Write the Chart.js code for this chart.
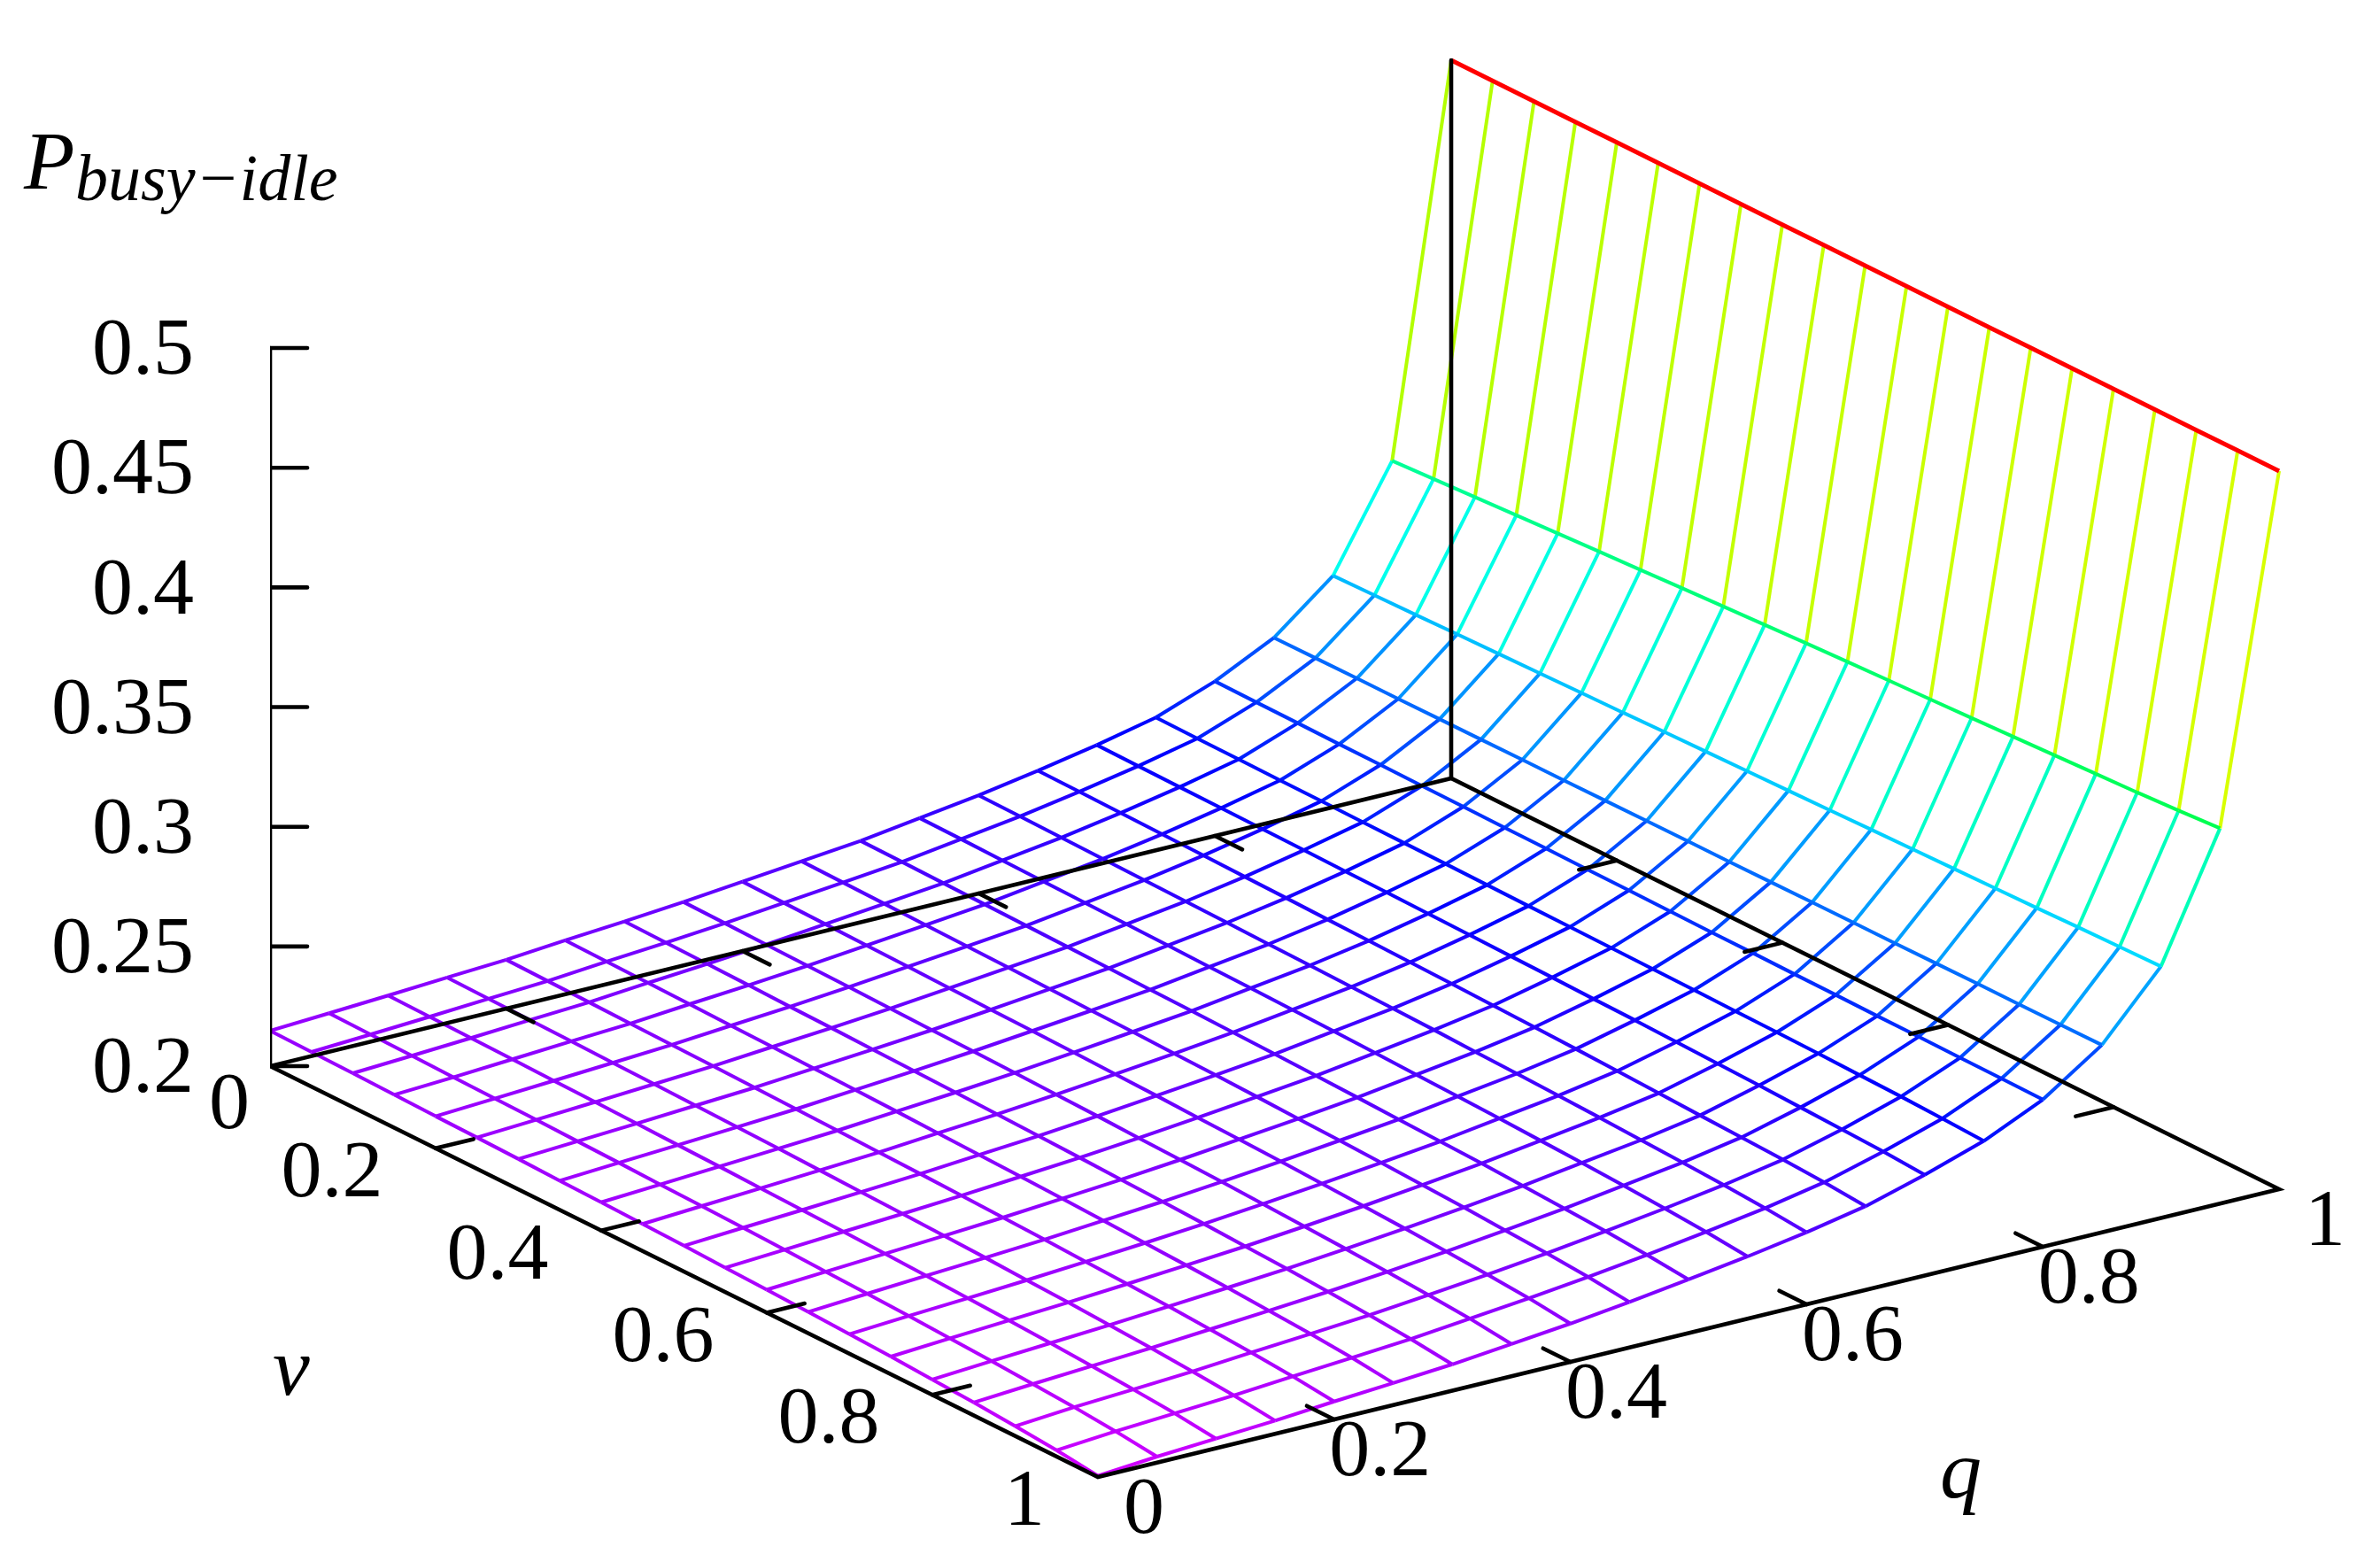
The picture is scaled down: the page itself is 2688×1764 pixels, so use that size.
<!DOCTYPE html>
<html>
<head>
<meta charset="utf-8">
<title>P busy-idle surface</title>
<script src="https://cdn.jsdelivr.net/npm/chart.js@4/dist/chart.umd.min.js"></script>
<style>
  html, body { margin: 0; padding: 0; background: #fff; }
  #wrap { width: 2688px; height: 1764px; }
</style>
</head>
<body>
<div id="wrap"><canvas id="myChart" width="2688" height="1764"></canvas></div>
<script>
// grid of the surface
const vValues = [0,0.05,0.1,0.15,0.2,0.25,0.3,0.35,0.4,0.45,0.5,0.55,0.6,0.65,0.7,0.75,0.8,0.85,0.9,0.95,1];
const qValues = [0,0.05,0.1,0.15,0.2,0.25,0.3,0.35,0.4,0.45,0.5,0.55,0.6,0.65,0.7,0.75,0.8,0.85,0.9,0.95,1];

// P values, one array per q, running along v
const pQ000 = [.2148,.2145,.2142,.2138,.2134,.2131,.2127,.2122,.2118,.2113,.2108,.2102,.2096,.2089,.2082,.2074,.2064,.2054,.2041,.2026,.2005];
const pQ005 = [.2161,.2158,.2155,.2151,.2148,.2145,.2141,.2137,.2132,.2128,.2123,.2117,.2111,.2105,.2098,.2090,.2081,.2071,.2060,.2045,.2025];
const pQ010 = [.2175,.2172,.2169,.2166,.2162,.2159,.2155,.2151,.2147,.2142,.2137,.2132,.2126,.2120,.2112,.2105,.2096,.2086,.2074,.2060,.2040];
const pQ015 = [.2190,.2187,.2184,.2181,.2177,.2174,.2170,.2166,.2162,.2157,.2152,.2147,.2141,.2135,.2127,.2120,.2111,.2101,.2089,.2075,.2055];
const pQ020 = [.2204,.2201,.2198,.2195,.2192,.2189,.2185,.2181,.2177,.2172,.2168,.2163,.2157,.2151,.2144,.2137,.2129,.2119,.2108,.2094,.2075];
const pQ025 = [.2225,.2222,.2219,.2216,.2212,.2209,.2205,.2201,.2197,.2192,.2187,.2182,.2176,.2170,.2162,.2155,.2147,.2137,.2126,.2112,.2092];
const pQ030 = [.2244,.2241,.2238,.2235,.2231,.2228,.2224,.2220,.2216,.2211,.2206,.2201,.2195,.2189,.2182,.2174,.2166,.2156,.2144,.2130,.2110];
const pQ035 = [.2265,.2262,.2259,.2256,.2253,.2249,.2245,.2242,.2238,.2233,.2229,.2223,.2218,.2212,.2205,.2197,.2189,.2179,.2168,.2155,.2135];
const pQ040 = [.2290,.2287,.2284,.2281,.2278,.2274,.2270,.2267,.2263,.2258,.2254,.2248,.2243,.2237,.2230,.2222,.2214,.2204,.2193,.2180,.2160];
const pQ045 = [.2315,.2312,.2309,.2306,.2303,.2300,.2296,.2292,.2289,.2284,.2280,.2275,.2269,.2264,.2257,.2250,.2242,.2232,.2222,.2209,.2190];
const pQ050 = [.2340,.2338,.2335,.2332,.2329,.2326,.2323,.2319,.2316,.2312,.2308,.2303,.2298,.2292,.2286,.2280,.2272,.2263,.2254,.2241,.2224];
const pQ055 = [.2375,.2373,.2370,.2367,.2364,.2361,.2358,.2354,.2351,.2347,.2343,.2338,.2333,.2328,.2322,.2315,.2308,.2299,.2289,.2277,.2260];
const pQ060 = [.2410,.2408,.2405,.2402,.2399,.2396,.2393,.2389,.2386,.2382,.2378,.2374,.2368,.2363,.2357,.2351,.2343,.2335,.2327,.2316,.2301];
const pQ065 = [.2453,.2451,.2448,.2445,.2442,.2439,.2436,.2432,.2429,.2425,.2421,.2416,.2411,.2406,.2400,.2393,.2386,.2380,.2373,.2364,.2350];
const pQ070 = [.2500,.2498,.2496,.2494,.2492,.2490,.2487,.2485,.2482,.2479,.2476,.2473,.2469,.2466,.2461,.2456,.2451,.2445,.2439,.2432,.2421];
const pQ075 = [.2555,.2553,.2552,.2550,.2549,.2547,.2545,.2544,.2542,.2540,.2538,.2536,.2534,.2532,.2529,.2527,.2524,.2520,.2516,.2510,.2502];
const pQ080 = [.2646,.2644,.2643,.2641,.2640,.2638,.2637,.2635,.2634,.2632,.2631,.2629,.2627,.2626,.2624,.2623,.2621,.2620,.2618,.2617,.2615];
const pQ085 = [.2768,.2769,.2770,.2770,.2771,.2772,.2773,.2773,.2774,.2775,.2776,.2776,.2777,.2778,.2779,.2779,.2780,.2781,.2781,.2782,.2783];
const pQ090 = [.2967,.2971,.2975,.2980,.2984,.2988,.2992,.2996,.3001,.3005,.3009,.3013,.3017,.3022,.3026,.3030,.3034,.3038,.3043,.3047,.3051];
const pQ095 = [.3387,.3397,.3407,.3417,.3427,.3437,.3446,.3456,.3465,.3474,.3483,.3491,.3499,.3506,.3514,.3522,.3530,.3538,.3546,.3556,.3568];
const pQ100 = [.5,.5,.5,.5,.5,.5,.5,.5,.5,.5,.5,.5,.5,.5,.5,.5,.5,.5,.5,.5,.5];
const pRows = [pQ000,pQ005,pQ010,pQ015,pQ020,pQ025,pQ030,pQ035,pQ040,pQ045,pQ050,pQ055,pQ060,pQ065,pQ070,pQ075,pQ080,pQ085,pQ090,pQ095,pQ100];

// tick labels
const pTicks = [0.2,0.25,0.3,0.35,0.4,0.45,0.5];
const vTicks = [0,0.2,0.4,0.6,0.8,1];
const qTicks = [0,0.2,0.4,0.6,0.8,1];

// view: how one unit of v and q lands on the flat chart (x in chart units, y in P units)
const vToX = 935, qToX = 1334;
const vToP = -464 / 2703.3, qToP = 325 / 2703.3;
const pMin = 0.2, pMax = 0.5;

function project(v, q, p) {
  return { x: v * vToX + q * qToX, y: p + v * vToP + q * qToP, z: p };
}

function meshColor(p) {
  const t = Math.min(1, Math.max(0, (p - pMin) / (pMax - pMin)));
  return 'hsl(' + (290 * (1 - t)) + ',100%,50%)';
}

function blackLine(points) {
  return { data: points, borderColor: '#000', borderWidth: 4.6, pointRadius: 0, borderCapStyle: 'round' };
}

function meshLine(points, width) {
  return {
    data: points,
    borderColor: meshColor(points[0].z),
    borderWidth: width,
    pointRadius: 0,
    segment: {
      borderColor: ctx => {
        const d = ctx.chart.data.datasets[ctx.datasetIndex].data;
        return meshColor((d[ctx.p0DataIndex].z + d[ctx.p1DataIndex].z) / 2);
      }
    }
  };
}

const datasets = [];

// box: black lines go first so they end up over the mesh
datasets.push(blackLine([project(0,0,pMin), project(0,0,pMax)]));
datasets.push(blackLine([project(0,1,pMin), project(0,1,pMax)]));
datasets.push(blackLine([project(0,0,pMin), project(1,0,pMin), project(1,1,pMin), project(0,1,pMin), project(0,0,pMin)]));

const tickQ = 0.032, tickV = 0.033, tickX = 42;
pTicks.forEach(p => {
  datasets.push(blackLine([project(0,0,p), { x: tickX, y: p }]));
});
vTicks.slice(1, -1).forEach(v => {
  datasets.push(blackLine([project(v,0,pMin), project(v,tickQ,pMin)]));
  datasets.push(blackLine([project(v,1,pMin), project(v,1-tickQ,pMin)]));
});
qTicks.slice(1, -1).forEach(q => {
  datasets.push(blackLine([project(1,q,pMin), project(1-tickV,q,pMin)]));
  datasets.push(blackLine([project(0,q,pMin), project(tickV,q,pMin)]));
});

// mesh
pRows.forEach((row, i) => {
  datasets.push(meshLine(vValues.map((v, j) => project(v, qValues[i], row[j])), i === pRows.length - 1 ? 5 : 4));
});
vValues.forEach((v, j) => {
  datasets.push(meshLine(qValues.map((q, i) => project(v, q, pRows[i][j])), 4));
});

const tickFont = '92px "Liberation Serif"';
const labelDrop = 5;
const pLabelRight = 219;
const vLabelOffsets = [[-46,41],[-117,25],[-117,25],[-117,25],[-117,25],[-83,25]];
const qLabelOffset = [52,34];

const textPlugin = {
  id: 'surfaceText',
  afterDatasetsDraw(chart) {
    const c = chart.ctx, xs = chart.scales.x, ys = chart.scales.y;
    c.save();
    c.fillStyle = '#000';
    c.textBaseline = 'middle';
    c.font = tickFont;
    c.textAlign = 'right';
    pTicks.forEach(p => {
      c.fillText(String(p), pLabelRight, ys.getPixelForValue(p) + labelDrop);
    });
    c.textAlign = 'center';
    vTicks.forEach((v, i) => {
      const a = project(v, 0, pMin);
      c.fillText(String(v), xs.getPixelForValue(a.x) + vLabelOffsets[i][0], ys.getPixelForValue(a.y) + vLabelOffsets[i][1] + labelDrop);
    });
    qTicks.forEach(q => {
      const a = project(1, q, pMin);
      c.fillText(String(q), xs.getPixelForValue(a.x) + qLabelOffset[0], ys.getPixelForValue(a.y) + qLabelOffset[1] + labelDrop);
    });
    c.textBaseline = 'alphabetic';
    c.textAlign = 'left';
    c.font = 'italic 94px "Liberation Serif"';
    c.fillText('P', 27, 213);
    c.fillText('v', 308, 1575);
    c.fillText('q', 2191, 1691);
    c.font = 'italic 74px "Liberation Serif"';
    c.fillText('busy\u2212idle', 85, 226);
    c.restore();
  }
};

new Chart(document.getElementById('myChart'), {
  type: 'line',
  data: { datasets: datasets },
  plugins: [textPlugin],
  options: {
    responsive: false,
    animation: false,
    devicePixelRatio: 1,
    layout: { padding: 0 },
    plugins: { legend: { display: false }, tooltip: { enabled: false } },
    elements: { line: { tension: 0 } },
    scales: {
      x: { type: 'linear', display: false, min: 0, max: 2383 },
      y: {
        type: 'linear',
        min: -0.00715,
        max: 0.6454,
        border: { display: false },
        grid: { display: false, drawTicks: false },
        ticks: { display: false },
        afterFit: scale => { scale.width = 305; scale.paddingTop = 0; scale.paddingBottom = 0; }
      }
    }
  }
});
</script>
</body>
</html>
